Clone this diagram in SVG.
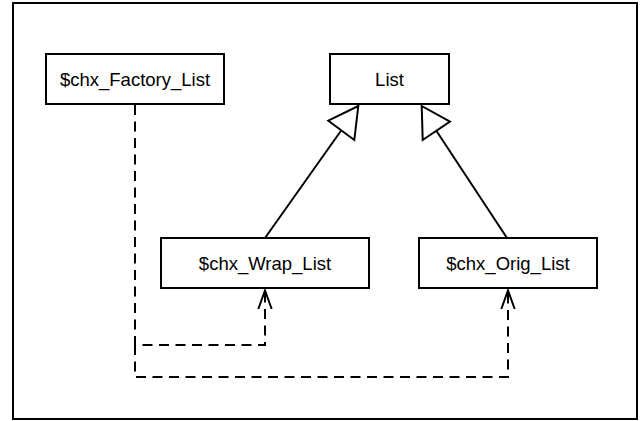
<svg xmlns="http://www.w3.org/2000/svg" width="642" height="421" viewBox="0 0 642 421">
<style>
.box{fill:#fff;stroke:#000;stroke-width:2}
.lbl{font-family:"Liberation Sans",Arial,sans-serif;font-size:18.5px;fill:#000;text-anchor:middle}
.solid{fill:none;stroke:#000;stroke-width:2}
.dash{fill:none;stroke:#000;stroke-width:2;stroke-dasharray:10 6.5}
.tri{fill:#fff;stroke:#000;stroke-width:2;stroke-linejoin:miter}
.open{fill:none;stroke:#000;stroke-width:2}
</style>
<rect x="0" y="0" width="642" height="421" fill="#fff"/>
<rect x="13" y="3" width="624" height="416" fill="none" stroke="#000" stroke-width="2"/>
<g id="connectors">
<path class="dash" d="M135,105 V345 H265 V292"/>
<path class="dash" d="M135,345 V377 H508 V292"/>
<path class="open" d="M258.3,309 L265,290.5 L271.7,309"/>
<path class="open" d="M501.3,309 L508,290.5 L514.7,309"/>
<path class="solid" d="M265,238 L341.5,130"/>
<path class="tri" d="M358.3,106 L328.3,120.7 L354.3,140 Z"/>
<path class="solid" d="M507,238 L436.5,131"/>
<path class="tri" d="M421.7,106 L450,121.7 L422.7,140 Z"/>
</g>
<g id="factory">
<rect class="box" x="46" y="54" width="178" height="50"/>
<text class="lbl" x="135" y="85.5">$chx_Factory_List</text>
</g>
<g id="list">
<rect class="box" x="330" y="54" width="119" height="50"/>
<text class="lbl" x="389.5" y="85.5">List</text>
</g>
<g id="wrap">
<rect class="box" x="161" y="238" width="208" height="50"/>
<text class="lbl" x="265" y="269.5">$chx_Wrap_List</text>
</g>
<g id="orig">
<rect class="box" x="419" y="238" width="178" height="50"/>
<text class="lbl" x="508" y="269.5">$chx_Orig_List</text>
</g>
</svg>
